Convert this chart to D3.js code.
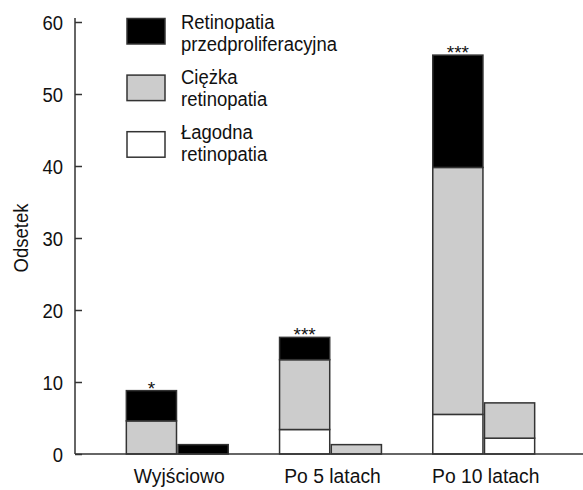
<!DOCTYPE html>
<html><head><meta charset="utf-8">
<script src="https://cdn.jsdelivr.net/npm/d3@7"></script>
<style>
html,body{margin:0;padding:0;background:#fff;}
text{font-family:"Liberation Sans",Arial,sans-serif;fill:#111;}
</style></head>
<body>
<svg id="chart" width="583" height="490"></svg>
<script>
const categories = ["Wyjściowo", "Po 5 latach", "Po 10 latach"];
const subgroups = ["A", "B"];
// values per series: [category][subgroup]
const mild = [[0, 0], [3.4, 0], [5.5, 2.2]];          // Łagodna retinopatia
const severe = [[4.6, 0], [9.7, 1.3], [34.3, 4.9]];   // Ciężka retinopatia
const preprolif = [[4.2, 1.3], [3.1, 0], [15.6, 0]];  // Retinopatia przedproliferacyjna
const significance = ["*", "***", "***"];
const yTicks = [0, 10, 20, 30, 40, 50, 60];
const seriesNames = ["Retinopatia\nprzedproliferacyjna", "Ciężka\nretinopatia", "Łagodna\nretinopatia"];
const seriesColors = ["#000000", "#cccccc", "#ffffff"];
const yLabel = "Odsetek";

const FS = 21, SX = 0.88;
const svg = d3.select("#chart");
const y = d3.scaleLinear().domain([0, 60]).range([454, 22]);
const x = d3.scaleBand().domain(categories).range([77, 584]).paddingInner(0.335).paddingOuter(0.322);
const xi = d3.scaleBand().domain(subgroups).range([0, x.bandwidth()]).paddingInner(0.03);

function narrowText(sel, tx, ty, sx) {
  const s = sx || SX;
  sel.attr("x", 0).attr("y", 0).attr("font-size", FS)
     .attr("transform", `translate(${tx},${ty}) scale(${s},1)`);
  return sel;
}

// stacked data
const stacks = [mild, severe, preprolif];
const stackColors = ["#ffffff", "#cccccc", "#000000"];
const rects = [];
categories.forEach((c, ci) => {
  subgroups.forEach((s, si) => {
    let base = 0;
    stacks.forEach((st, k) => {
      const v = st[ci][si];
      if (v > 0) rects.push({c, s, y0: base, y1: base + v, color: stackColors[k]});
      base += v;
    });
  });
});

svg.append("g").selectAll("rect").data(rects).join("rect")
  .attr("x", d => x(d.c) + xi(d.s))
  .attr("width", xi.bandwidth())
  .attr("y", d => y(d.y1))
  .attr("height", d => y(d.y0) - y(d.y1))
  .attr("fill", d => d.color)
  .attr("stroke", "#333")
  .attr("stroke-width", 1.5);

// significance stars
svg.append("g").selectAll("text").data(categories).join("text")
  .attr("x", (c) => x(c) + xi("A") + xi.bandwidth() / 2)
  .attr("y", (c, i) => y(mild[i][0] + severe[i][0] + preprolif[i][0]) + 4)
  .attr("text-anchor", "middle")
  .attr("font-size", 19)
  .text((c, i) => significance[i]);

// y axis
const yAxis = d3.axisRight(y).tickValues(yTicks).tickSize(7).tickFormat(d3.format("d"));
const ya = svg.append("g").attr("transform", "translate(75,0)").call(yAxis);
ya.select(".domain").attr("d", "M0,18V454").attr("stroke", "#333").attr("stroke-width", 1.5);
ya.selectAll(".tick line").attr("stroke", "#333").attr("stroke-width", 1.5);
ya.selectAll(".tick text").attr("text-anchor", "end").attr("dy", "0.35em")
  .style("font-family", "'Liberation Sans', Arial, sans-serif").attr("fill", "#111")
  .call(narrowText, -12, 0);

// x axis baseline
const xAxis = d3.axisBottom(x).tickSize(0);
const xa = svg.append("g").attr("transform", "translate(0,454)").call(xAxis);
xa.select(".domain").attr("d", "M75,0H583").attr("stroke", "#333").attr("stroke-width", 1.5);
xa.selectAll(".tick text").attr("dy", null)
  .style("font-family", "'Liberation Sans', Arial, sans-serif").attr("fill", "#111")
  .call(narrowText, 2, 29, 0.92);

// y label
svg.append("text").attr("transform", `translate(28,238) rotate(-90) scale(${SX},1)`)
  .attr("text-anchor", "middle").attr("font-size", FS).text(yLabel);

// legend
const leg = svg.append("g");
seriesNames.forEach((n, i) => {
  const top = 18.5 + i * 56.6;
  leg.append("rect").attr("x", 127).attr("y", top).attr("width", 38).attr("height", 25.5)
    .attr("fill", seriesColors[i]).attr("stroke", "#333").attr("stroke-width", 1.5);
  n.split("\n").forEach((line, j) => {
    leg.append("text").call(narrowText, 181, 28.5 + i * 55.2 + j * 22).text(line);
  });
});
</script>
</body></html>
